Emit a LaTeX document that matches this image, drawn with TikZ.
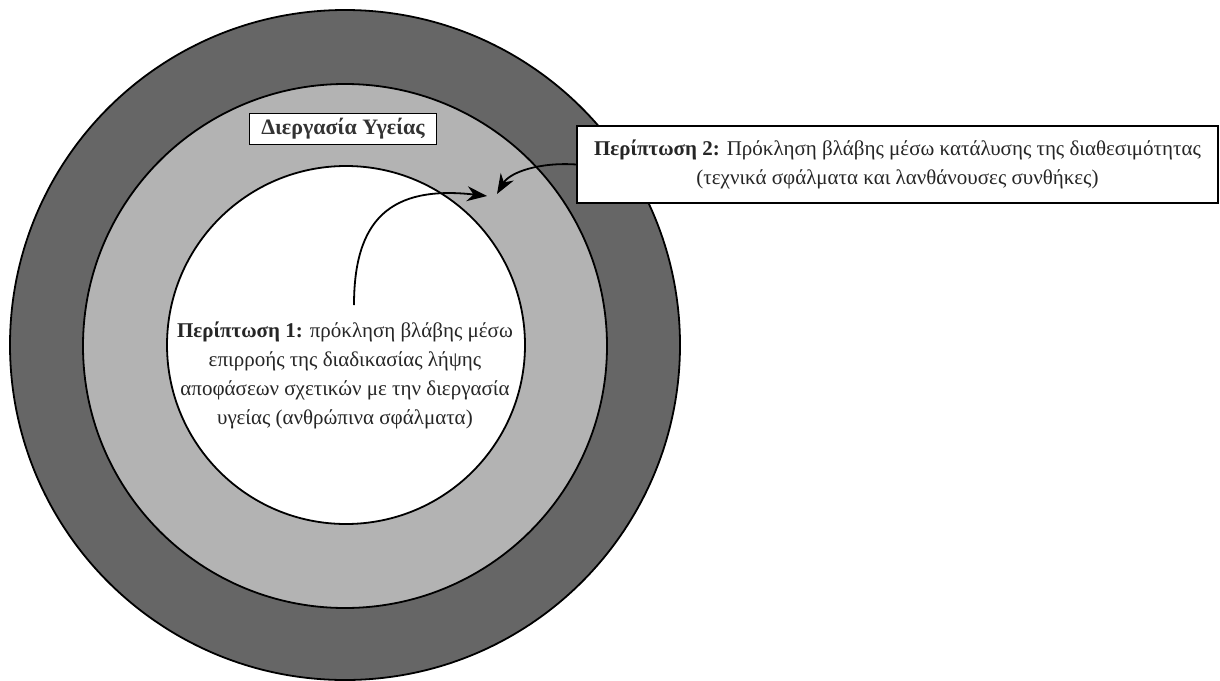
\documentclass[tikz,border=0pt]{standalone}
\usepackage{fontspec}
\setmainfont{Liberation Serif}
\usetikzlibrary{arrows.meta}
\definecolor{ringdark}{RGB}{102,102,102}
\definecolor{ringlight}{RGB}{179,179,179}
\begin{document}
\begin{tikzpicture}[x=1pt,y=-1pt,
  ring/.style={circle,draw=black,line width=1.8pt,inner sep=0pt},
  label box/.style={draw=black,fill=white,line width=1.5pt,inner sep=4pt},
  body/.style={font=\fontsize{21}{29}\selectfont,align=center,text=black!85},
  link/.style={line width=1.8pt,-{Stealth[length=20pt,width=15pt]}}]
\useasboundingbox (0,0) rectangle (1220,680);
% nested rings
\node[ring,fill=ringdark,minimum size=670pt] (outer) at (345,345) {};
\node[ring,fill=ringlight,minimum size=524pt] (middle) at (345,346) {};
\node[ring,fill=white,minimum size=358pt] (inner) at (346,345) {};
% ring title
\node[label box,font=\fontsize{22}{26}\selectfont\bfseries,text=black!80,
      minimum width=187pt,minimum height=31pt,inner sep=2pt] (title) at (343,129) {Διεργασία Υγείας};
% case 1 text inside the inner disc
\node[body] (case1) at (345,375) {\textbf{Περίπτωση 1:} πρόκληση βλάβης μέσω\\
  επιρροής της διαδικασίας λήψης\\
  αποφάσεων σχετικών με την διεργασία\\
  υγείας (ανθρώπινα σφάλματα)};
% case 2 box on the right
\node[label box,body,minimum width=641pt,minimum height=77pt,inner sep=0pt] (case2) at (897.5,164.5)
  {\textbf{Περίπτωση 2:} Πρόκληση βλάβης μέσω κατάλυσης της διαθεσιμότητας\\
   (τεχνικά σφάλματα και λανθάνουσες συνθήκες)};
% arrow anchors
\coordinate (start1) at (354,305);
\coordinate (tip1) at (487,196);
\coordinate (tip2) at (497,194);
\draw[link] (start1) .. controls (354,220) and (390,185) .. (tip1);
\draw[link] (case2.west) .. controls (540,162) and (510,172) .. (tip2);
\end{tikzpicture}
\end{document}
